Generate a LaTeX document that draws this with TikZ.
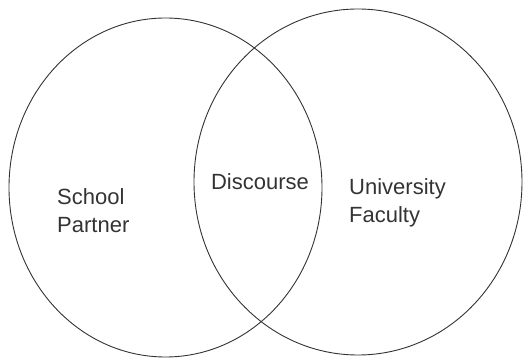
\documentclass[tikz,border=0pt]{standalone}
\usepackage{fontspec}
\setmainfont{Liberation Sans}
\begin{document}
\begin{tikzpicture}[x=1pt, y=-1pt]
        \useasboundingbox (0,0) rectangle (523,358);
        \coordinate (school)     at (165.5, 187.5);
        \coordinate (university) at (358, 182);
        \draw[black!80, line width=0.9pt] (school)     ellipse [x radius=156.5, y radius=169.5];
        \draw[black!80, line width=0.9pt] (university) ellipse [x radius=164, y radius=173];
        \node[anchor=west, align=left, inner sep=0, text=black!80, font=\fontsize{22}{28}\selectfont] (partner) at (57, 211) {School\\Partner};
        \node[inner sep=0, text=black!80, font=\fontsize{22}{28}\selectfont] (discourse) at (260, 182) {Discourse};
        \node[anchor=west, align=left, inner sep=0, text=black!80, font=\fontsize{22}{28}\selectfont] (faculty) at (349, 203) {University\\Faculty};
      \end{tikzpicture}
\end{document}
